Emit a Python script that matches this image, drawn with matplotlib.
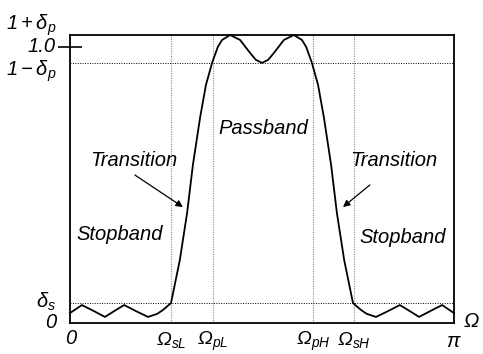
import numpy as np
import matplotlib
matplotlib.use("Agg")
import matplotlib.pyplot as plt

plt.rcParams['font.family'] = ['Liberation Sans', 'DejaVu Sans']
plt.rcParams['font.style'] = 'italic'
plt.rcParams['mathtext.fontset'] = 'custom'
plt.rcParams['mathtext.rm'] = 'Liberation Sans:italic'
plt.rcParams['mathtext.it'] = 'Liberation Sans:italic'
plt.rcParams['mathtext.sf'] = 'Liberation Sans'

# magnitude response, frequency as a fraction of pi
freq = [0, .031, .0625, .091, .115, .141, .172, .203, .227, .242, .263,
        .286, .305, .320, .339, .354, .370, .385, .396, .417, .443, .469,
        .484, .5, .516, .531, .557, .583, .604, .615, .630, .646, .661,
        .680, .695, .714, .737, .758, .773, .797, .828, .859, .885, .909,
        .938, .969, 1.0]
mag = [.036, .065, .043, .022, .043, .065, .043, .022, .033, .047, .072,
       .228, .399, .572, .746, .862, .942, 1.0, 1.025, 1.043, 1.025, .978,
       .953, .942, .953, .978, 1.025, 1.043, 1.025, 1.0, .942, .862, .746,
       .572, .399, .228, .072, .047, .033, .022, .043, .065, .043, .022,
       .043, .065, .036]

edges = [.263, .372, .633, .740]
edge_labels = [r'$\mathsf{\Omega}_{sL}$', r'$\mathsf{\Omega}_{pL}$',
               r'$\mathsf{\Omega}_{pH}$', r'$\mathsf{\Omega}_{sH}$']
dp_hi = 1.043
dp_lo = 0.942
ds = 0.072

fig = plt.figure(figsize=(4.83, 3.54), dpi=100)
ax = fig.add_axes([70/483, 31/354, 384/483, 288/354])

w = np.array(freq)*np.pi
ax.plot(w, mag, color='black', lw=1.3, clip_on=False, zorder=3)

for e in edges:
    ax.axvline(e*np.pi, color='#888888', lw=0.8, ls=(0, (1, 1.2)))
ax.axhline(dp_lo, color='black', lw=0.7, ls=(0, (1, 1.5)))
ax.axhline(ds, color='black', lw=0.7, ls=(0, (1, 1.5)))

ax.set_xlim(0, np.pi)
ax.set_ylim(0, dp_hi)
for s in ax.spines.values():
    s.set_linewidth(1.3)
ax.set_xticks([])
ax.set_yticks([1.0])
ax.set_yticklabels([''])
ax.tick_params(axis='y', direction='inout', length=17, width=1.2)

fs = 14.5
# left side labels
lx = -14/384*np.pi
ax.text(lx, dp_hi + 0.035, r'$1+\mathsf{\delta}_{p}$', ha='right', va='center', fontsize=fs)
ax.text(lx, 1.0, '1.0', ha='right', va='center', fontsize=fs)
ax.text(lx, dp_lo - 0.03, r'$1-\mathsf{\delta}_{p}$', ha='right', va='center', fontsize=fs)
ax.text(lx, ds + 0.005, r'$\mathsf{\delta}_{s}$', ha='right', va='center', fontsize=fs)
ax.text(lx, 0.0, '0', ha='right', va='center', fontsize=fs)

# frequency axis labels
ax.text(0.005, -0.022, '0', ha='center', va='top', fontsize=fs)
for e, lab in zip(edges, edge_labels):
    ax.text(e*np.pi, -0.026, lab, ha='center', va='top', fontsize=14)
ax.text(np.pi, -0.032, r'$\mathsf{\pi}$', ha='center', va='top', fontsize=fs)
ax.text(np.pi*1.045, 0.007, r'$\mathsf{\Omega}$', ha='center', va='center', fontsize=fs)

# region labels
ax.text(0.167*np.pi, 0.59, 'Transition', ha='center', va='center', fontsize=fs)
ax.text(0.130*np.pi, 0.32, 'Stopband', ha='center', va='center', fontsize=fs)
ax.text(0.503*np.pi, 0.705, 'Passband', ha='center', va='center', fontsize=fs)
ax.text(0.844*np.pi, 0.59, 'Transition', ha='center', va='center', fontsize=fs)
ax.text(0.867*np.pi, 0.31, 'Stopband', ha='center', va='center', fontsize=fs)

ax.annotate('', xy=(0.294*np.pi, 0.420), xytext=(0.169*np.pi, 0.536),
            arrowprops=dict(arrowstyle='-|>', color='black', lw=0.9,
                            mutation_scale=10, shrinkA=0, shrinkB=0))
ax.annotate('', xy=(0.711*np.pi, 0.420), xytext=(0.781*np.pi, 0.500),
            arrowprops=dict(arrowstyle='-|>', color='black', lw=0.9,
                            mutation_scale=10, shrinkA=0, shrinkB=0))

fig.savefig('out.png', dpi=100)
